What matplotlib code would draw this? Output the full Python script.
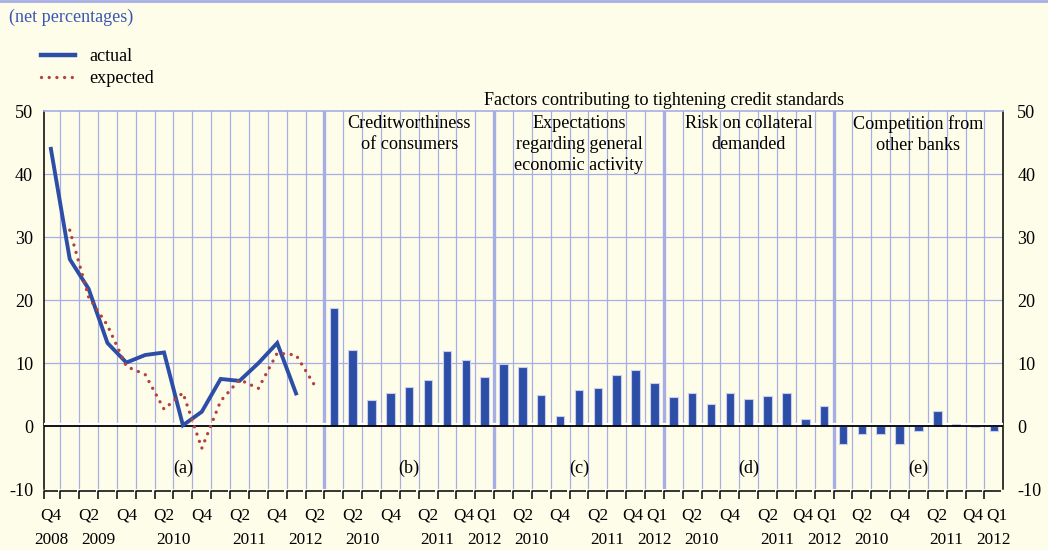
import matplotlib
matplotlib.use('Agg')
import matplotlib.pyplot as plt
from matplotlib.lines import Line2D
import numpy as np

# ---------------- data ----------------
quarters_a = ['2008Q4', '2009Q1', '2009Q2', '2009Q3', '2009Q4', '2010Q1', '2010Q2',
              '2010Q3', '2010Q4', '2011Q1', '2011Q2', '2011Q3', '2011Q4', '2012Q1', '2012Q2']
actual = [44.0, 26.5, 21.8, 13.2, 10.1, 11.3, 11.7, 0.15, 2.3, 7.5, 7.2, 10.0, 13.2, 5.2, np.nan]
expected = [np.nan, 31.1, 20.5, 16.0, 9.5, 8.2, 2.7, 5.3, -3.5, 4.0, 7.4, 6.0, 11.6, 11.3, 6.4]

quarters_bars = ['2010Q1', '2010Q2', '2010Q3', '2010Q4', '2011Q1', '2011Q2',
                 '2011Q3', '2011Q4', '2012Q1']
creditworthiness = [18.8, 12.1, 4.1, 5.2, 6.2, 7.3, 12.0, 10.5, 7.8]
expectations = [9.9, 9.4, 5.0, 1.6, 5.8, 6.0, 8.1, 9.0, 6.8]
collateral = [4.7, 5.3, 3.5, 5.2, 4.3, 4.8, 5.3, 1.1, 3.2]
competition = [-2.8, -1.3, -1.2, -2.8, -0.8, 2.4, 0.3, -0.1, -0.7]

bar_series = [creditworthiness, expectations, collateral, competition]
panel_titles = ['Creditworthiness\nof consumers',
                'Expectations\nregarding general\neconomic activity',
                'Risk on collateral\ndemanded',
                'Competition from\nother banks']
panel_letters = ['(a)', '(b)', '(c)', '(d)', '(e)']
labelled_a = ['2008Q4', '2009Q2', '2009Q4', '2010Q2', '2010Q4', '2011Q2', '2011Q4', '2012Q2']
labelled_bars = ['2010Q2', '2010Q4', '2011Q2', '2011Q4', '2012Q1']
header = 'Factors contributing to tightening credit standards'
yticks = [-10, 0, 10, 20, 30, 40, 50]

# ---------------- style ----------------
BG = '#FEFDE9'
LAV = '#A7AEE6'
BLUE = '#2D4EA7'
RED = '#B4413A'
TXT_BLUE = '#3A56B4'
FS = 13.1
FS_Q = 12.4
plt.rcParams['font.family'] = ['Liberation Serif', 'DejaVu Serif']
plt.rcParams['font.size'] = FS
plt.rcParams['axes.unicode_minus'] = False

fig = plt.figure(figsize=(10.48, 5.5), dpi=100, facecolor=BG)
ax = fig.add_axes([0.04227, 0.11036, 0.95735 - 0.04227, 0.79818 - 0.11036])
ax.set_facecolor(BG)

x_left, x_right = -0.35, 50.5
ax.set_xlim(x_left, x_right)
ax.set_ylim(-10, 50)

# panels layout
panels = [quarters_a] + [quarters_bars] * 4
starts = np.cumsum([0] + [len(p) for p in panels])  # 0,15,24,33,42,51
n_total = starts[-1]

# grid
for k in range(n_total - 1):
    b = k + 0.5
    if b + 0.5 in starts[1:-1]:
        ax.axvline(b, color=LAV, lw=2.4, zorder=1)
    else:
        ax.axvline(b, color=LAV, lw=0.9, zorder=1)
for yv in [10, 20, 30, 40]:
    ax.axhline(yv, color=LAV, lw=0.9, zorder=1)

# zero line
ax.axhline(0.28, color='white', lw=1.6, zorder=3)
ax.axhline(0, color='black', lw=1.3, zorder=4)

# panel (a) lines
DOT = (0, (0.01, 2.3))
xa = np.arange(len(quarters_a))
ax.plot(xa, actual, color=BLUE, lw=2.8, zorder=5, solid_joinstyle='miter', label='actual')
ax.plot(xa, expected, color=RED, lw=2.4, linestyle=DOT,
        dash_capstyle='round', zorder=6, label='expected')

# bars
for i, series in enumerate(bar_series):
    xb = np.arange(len(series)) + starts[i + 1]
    ax.bar(xb, series, width=0.45, color=BLUE, edgecolor='#C9CDF0', linewidth=0.8, zorder=3)

# spines
for s in ['left', 'right']:
    ax.spines[s].set_color('black')
    ax.spines[s].set_linewidth(1.1)
ax.spines['top'].set_color(LAV)
ax.spines['top'].set_linewidth(1.2)
ax.spines['bottom'].set_visible(False)

# y ticks both sides
ax.set_yticks(yticks)
ax.tick_params(axis='y', length=0, pad=8, labelsize=FS)
ax.set_xticks([])
axr = ax.twinx()
axr.set_ylim(ax.get_ylim())
axr.set_yticks(yticks)
axr.tick_params(axis='y', length=0, pad=10, labelsize=FS)
for s in axr.spines.values():
    s.set_visible(False)

# bottom axis with bracket ticks
tick_x = [x_left] + [k + 0.5 for k in range(n_total - 1)]
tick_end = tick_x[1:] + [x_right]
yA, yB = -10.25, -11.5
for t, e in zip(tick_x, tick_end):
    ax.plot([t, t, e - 0.12], [yB, yA, yA], color='black', lw=1.1,
            clip_on=False, zorder=6, solid_capstyle='butt')

# tick labels
trans = ax.get_xaxis_transform()
for p, quarters in enumerate(panels):
    labelled = labelled_a if p == 0 else labelled_bars
    for j, q in enumerate(quarters):
        if q in labelled:
            shift = 0.0
            if j + 1 < len(quarters) and quarters[j + 1] in labelled:
                shift = -0.13
            elif j > 0 and quarters[j - 1] in labelled:
                shift = 0.14
            ax.text(starts[p] + j + shift, -0.068, q[4:], transform=trans, ha='center',
                    va='center', fontsize=FS_Q)
    years = sorted(set(q[:4] for q in quarters))
    for y in years:
        idx = [starts[p] + j for j, q in enumerate(quarters) if q[:4] == y]
        ax.text(np.mean(idx), -0.134, y, transform=trans, ha='center', va='center',
                fontsize=FS_Q)
    # panel letters
    ax.text(starts[p] + (len(quarters) - 1) / 2, -6.6, panel_letters[p],
            ha='center', va='center', fontsize=FS, zorder=7)
    if p > 0:
        ax.text(starts[p] + (len(quarters) - 1) / 2, 49.3, panel_titles[p - 1],
                ha='center', va='top', fontsize=FS, linespacing=1.3, zorder=7)

ax.text((starts[1] - 0.5 + x_right) / 2, 50.3, header, ha='center', va='bottom', fontsize=FS)

# legend
handles = [Line2D([], [], color=BLUE, lw=3.2),
           Line2D([], [], color=RED, lw=2.4, linestyle=DOT, dash_capstyle='round')]
fig.legend(handles, ['actual', 'expected'], loc='upper left', bbox_to_anchor=(0.039, 0.912),
           frameon=False, fontsize=FS, handlelength=1.9, handletextpad=0.75,
           labelspacing=0.25, borderpad=0, borderaxespad=0)

fig.text(0.0086, 0.969, '(net percentages)', color=TXT_BLUE, ha='left', va='center', fontsize=FS)
fig.add_artist(Line2D([0, 1], [0.999, 0.999], color=LAV, lw=2, transform=fig.transFigure))

fig.savefig('out.png', dpi=100, facecolor=BG)
